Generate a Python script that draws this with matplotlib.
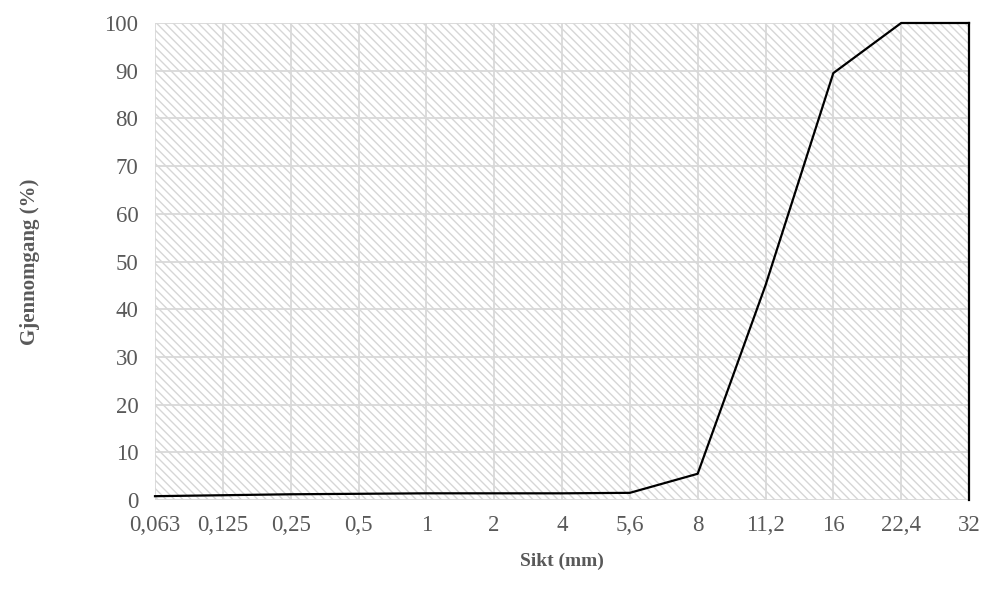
import matplotlib.pyplot as plt
from matplotlib.patches import Rectangle

# siktekurve
sikt = ['0,063', '0,125', '0,25', '0,5', '1', '2', '4', '5,6', '8', '11,2', '16', '22,4', '32']
gjennomgang = [0.8, 1.0, 1.2, 1.3, 1.4, 1.4, 1.4, 1.5, 5.5, 45.0, 89.5, 100.0, 100.0]

plt.rcParams['font.family'] = ['Liberation Serif', 'DejaVu Serif']
plt.rcParams['hatch.linewidth'] = 1.0
grey_txt = '#595959'
grid_c = '#d9d9d9'

fig = plt.figure(figsize=(9.86, 5.97), dpi=100)
ax = fig.add_axes([155/986, 97/597, 814/986, 477/597])

x = list(range(len(sikt)))
ax.set_xlim(0, len(sikt) - 1)
ax.set_ylim(0, 100)

# skravert bakgrunn i plotteområdet
bg = Rectangle((0, 0), 1, 1, transform=ax.transAxes, facecolor='white',
               edgecolor='#d6d6d6', hatch='\\\\\\\\', linewidth=0, zorder=0)
ax.add_patch(bg)

ax.set_xticks(x)
ax.set_xticklabels(sikt)
ax.set_yticks(range(0, 101, 10))
ax.grid(True, color=grid_c, linewidth=1.3, zorder=1)
ax.set_axisbelow(False)

ax.plot(x, gjennomgang, color='black', linewidth=1.6, zorder=3, clip_on=False)
ax.plot([x[-1], x[-1]], [gjennomgang[-1], 0], color='black', linewidth=1.6, zorder=3, clip_on=False)

for s in ax.spines.values():
    s.set_visible(False)
ax.tick_params(length=0, labelsize=16.5, colors=grey_txt, pad=11)
ax.tick_params(axis='y', pad=12)

ax.set_xlabel('Sikt (mm)', fontsize=14, fontweight='bold', color=grey_txt, labelpad=12)
ax.set_ylabel('Gjennomgang (%)', fontsize=15, fontweight='bold', color=grey_txt, labelpad=46)

plt.savefig('out.png', dpi=100)
